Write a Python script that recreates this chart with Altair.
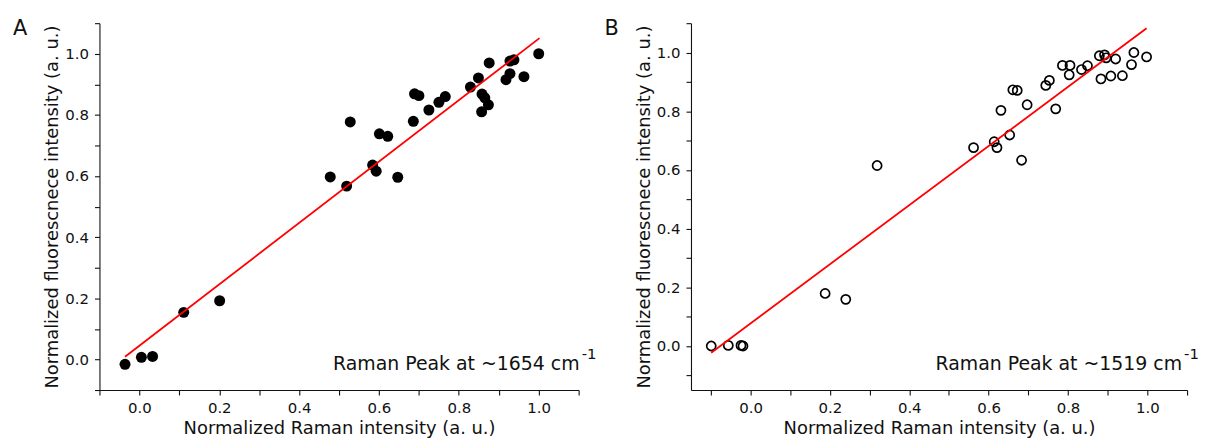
import altair as alt
import pandas as pd

FONT = "DejaVu Sans"

# Panel A data (filled circles)
a_x = [-0.036, 0.005, 0.033, 0.111, 0.201, 0.478, 0.519, 0.528, 0.584, 0.593, 0.601,
       0.622, 0.647, 0.686, 0.689, 0.700, 0.725, 0.750, 0.766, 0.829, 0.849, 0.858,
       0.865, 0.857, 0.874, 0.876, 0.918, 0.928, 0.928, 0.938, 0.963, 1.000]
a_y = [-0.016, 0.007, 0.010, 0.154, 0.192, 0.597, 0.567, 0.777, 0.636, 0.616, 0.738,
       0.730, 0.596, 0.779, 0.869, 0.863, 0.816, 0.841, 0.860, 0.891, 0.921, 0.868,
       0.856, 0.810, 0.833, 0.970, 0.915, 0.935, 0.976, 0.980, 0.925, 1.000]
a_fit_x = [-0.036, 1.002]
a_fit_y = [0.009, 1.051]

# Panel B data (open circles)
b_x = [-0.099, -0.056, -0.024, -0.019, 0.188, 0.240, 0.319, 0.562, 0.614, 0.621, 0.631,
       0.653, 0.661, 0.672, 0.683, 0.697, 0.744, 0.753, 0.769, 0.786, 0.805, 0.803,
       0.834, 0.849, 0.879, 0.892, 0.896, 0.883, 0.908, 0.920, 0.937, 0.960, 0.966, 0.998]
b_y = [0.000, 0.002, 0.002, 0.000, 0.179, 0.159, 0.615, 0.676, 0.696, 0.676, 0.803,
       0.719, 0.873, 0.871, 0.633, 0.822, 0.888, 0.905, 0.808, 0.956, 0.956, 0.924,
       0.942, 0.955, 0.989, 0.992, 0.982, 0.910, 0.920, 0.978, 0.921, 0.959, 1.000, 0.985]
b_fit_x = [-0.099, 0.998]
b_fit_y = [-0.023, 1.083]

ticks = [-0.1, 0.0, 0.1, 0.2, 0.3, 0.4, 0.5, 0.6, 0.7, 0.8, 0.9, 1.0, 1.1]
a_x_domain = [-0.1, 1.1]
a_y_domain = [-0.1, 1.1]
b_x_domain = [-0.15, 1.1]
b_y_domain = [-0.15, 1.1]

x_title = "Normalized Raman intensity (a. u.)"
y_title = "Normalized fluorescnece intensity (a. u.)"

LABEL_EXPR = "abs(round(datum.value*10)) % 2 == 0 ? format(datum.value, '.1f') : ''"


def panel(xs, ys, fx, fy, xdom, ydom, width, filled, letter, peak, text_right):
    df = pd.DataFrame({"x": xs, "y": ys})
    fit = pd.DataFrame({"x": fx, "y": fy})
    xenc = alt.X("x:Q", scale=alt.Scale(domain=xdom, nice=False, zero=False),
                 axis=alt.Axis(values=ticks, labelExpr=LABEL_EXPR, title=x_title,
                               labelPadding=6, titlePadding=4))
    yenc = alt.Y("y:Q", scale=alt.Scale(domain=ydom, nice=False, zero=False),
                 axis=alt.Axis(values=ticks, labelExpr=LABEL_EXPR, title=y_title,
                               labelPadding=6, titlePadding=3))
    if filled:
        pts = alt.Chart(df).mark_circle(size=122, color="black", opacity=1).encode(x=xenc, y=yenc)
    else:
        pts = alt.Chart(df).mark_point(shape="circle", size=84, filled=False, color="black",
                                       strokeWidth=1.7, opacity=1).encode(x=xenc, y=yenc)
    line = alt.Chart(fit).mark_line(color="#ff0000", strokeWidth=1.8).encode(x=xenc, y=yenc)
    main = alt.Chart(pd.DataFrame({"t": [peak]})).mark_text(
        align="right", baseline="alphabetic", fontSize=19, font=FONT, color="#111"
    ).encode(x=alt.value(text_right), y=alt.value(349), text="t:N")
    sup = alt.Chart(pd.DataFrame({"t": ["-1"]})).mark_text(
        align="left", baseline="alphabetic", fontSize=15, font=FONT, color="#111"
    ).encode(x=alt.value(text_right + 2), y=alt.value(338), text="t:N")
    let = alt.Chart(pd.DataFrame({"t": [letter]})).mark_text(
        align="left", baseline="alphabetic", fontSize=21, font=FONT, color="#111"
    ).encode(x=alt.value(-87), y=alt.value(12), text="t:N")
    return alt.layer(pts, line, main, sup, let).properties(width=width, height=369)


pa = panel(a_x, a_y, a_fit_x, a_fit_y, a_x_domain, a_y_domain, 482, True, "A",
           "Raman Peak at ~1654 cm", 483)
pb = panel(b_x, b_y, b_fit_x, b_fit_y, b_x_domain, b_y_domain, 499, False, "B",
           "Raman Peak at ~1519 cm", 494)

chart = alt.hconcat(pa, pb, spacing=113, bounds="flush").properties(
    padding={"left": 5, "top": 7, "right": 0, "bottom": 0}
).configure_view(stroke=None).configure_axis(
    grid=False, domainColor="#111", tickColor="#111", domainWidth=1.1, tickWidth=1.1,
    tickSize=5, labelColor="#111", titleColor="#111", labelFont=FONT, titleFont=FONT,
    labelFontSize=15, titleFontSize=18, titleFontWeight="normal", labelOverlap=False,
    labelFlush=False
)

chart.save("out.html", embed_options={"renderer": "svg", "actions": False})
